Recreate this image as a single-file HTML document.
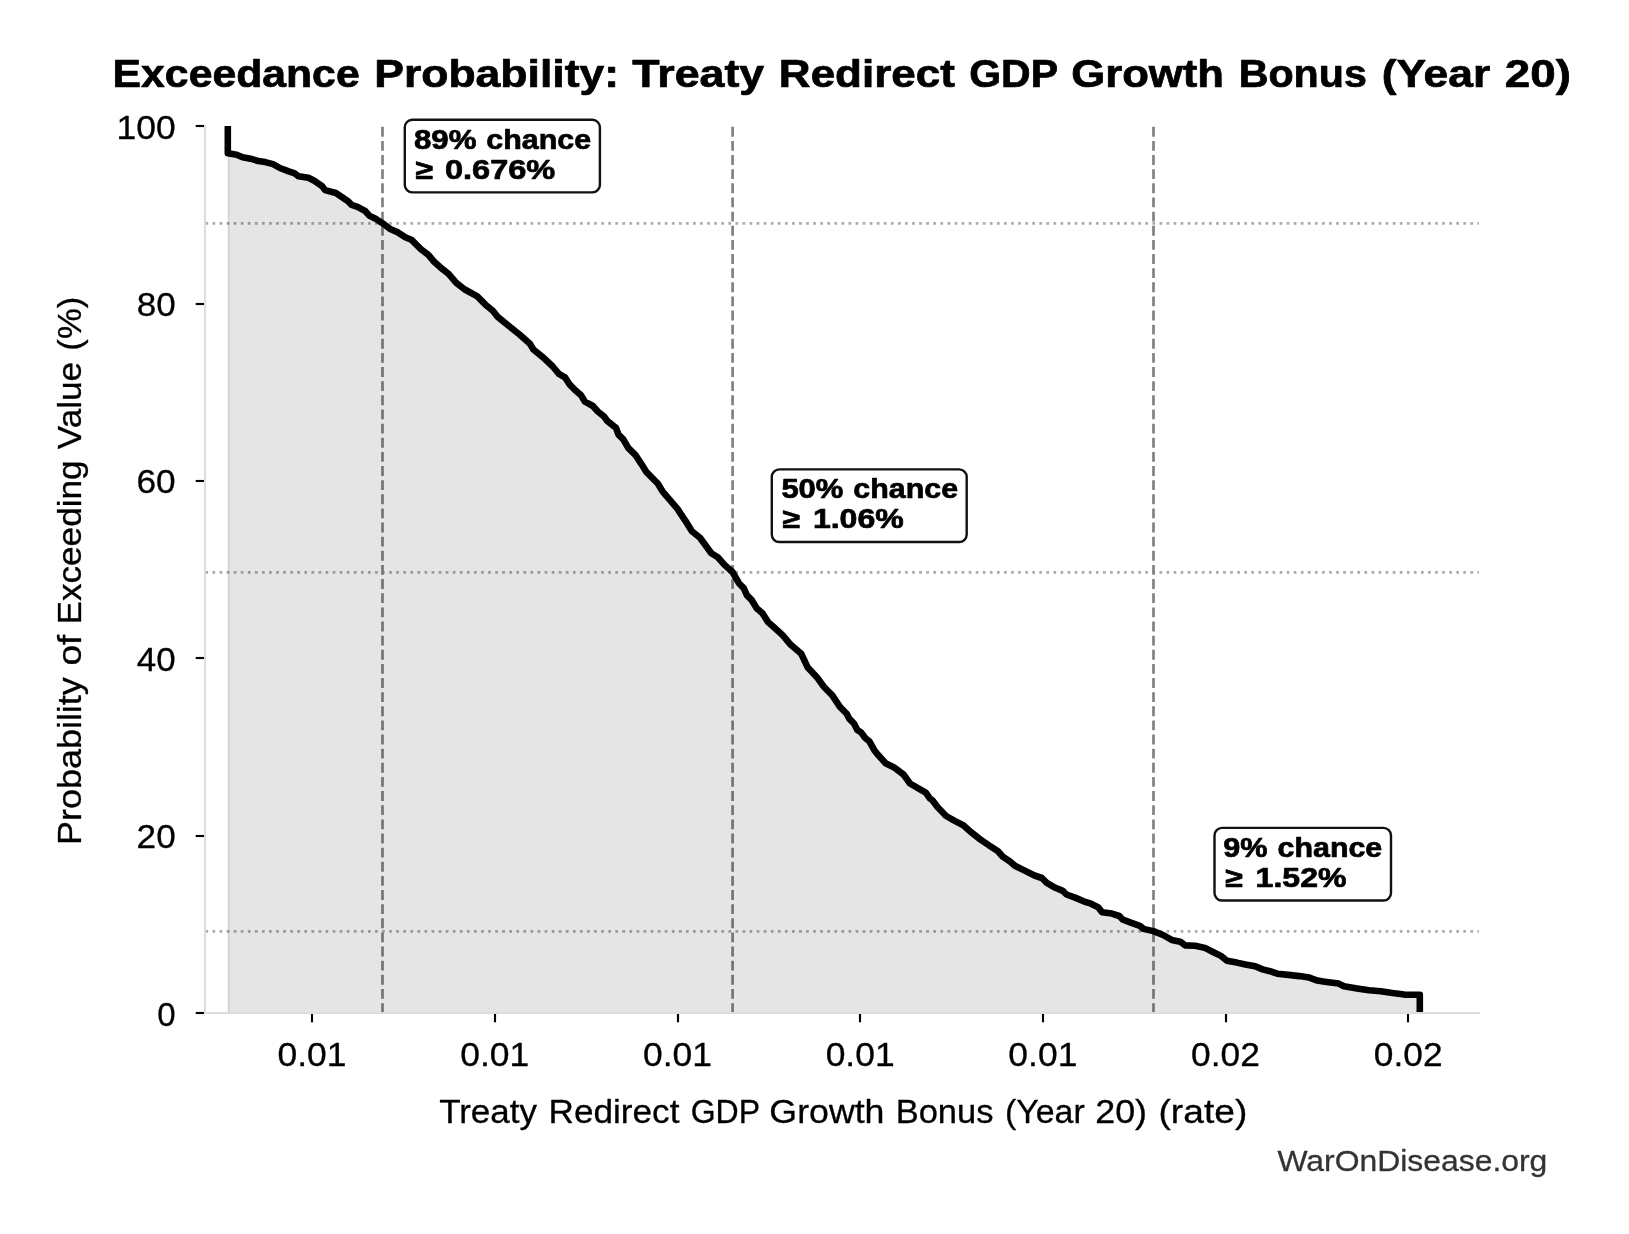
<!DOCTYPE html>
<html lang="en">
<head>
<meta charset="utf-8">
<title>Exceedance Probability: Treaty Redirect GDP Growth Bonus (Year 20)</title>
<style>
html,body{margin:0;padding:0;background:#fff;}
body{width:1629px;height:1234px;overflow:hidden;font-family:"Liberation Sans",sans-serif;}
svg{display:block;will-change:transform;}
text{font-family:"Liberation Sans",sans-serif;fill:#000;white-space:pre;}
.b{font-weight:bold;}
</style>
</head>
<body>
<svg width="1629" height="1234" viewBox="0 0 1629 1234">
<rect x="0" y="0" width="1629" height="1234" fill="#ffffff"/>
<line x1="205.45" y1="223.45" x2="1479" y2="223.45" stroke="#aaaaaa" stroke-width="2.67" stroke-dasharray="2.667 4.4"/>
<line x1="205.45" y1="572.45" x2="1479" y2="572.45" stroke="#aaaaaa" stroke-width="2.67" stroke-dasharray="2.667 4.4"/>
<line x1="205.45" y1="931.45" x2="1479" y2="931.45" stroke="#aaaaaa" stroke-width="2.67" stroke-dasharray="2.667 4.4"/>
<line x1="382.5" y1="1013" x2="382.5" y2="126" stroke="#808080" stroke-width="2.67" stroke-dasharray="9.867 4.267"/>
<line x1="732.6" y1="1013" x2="732.6" y2="126" stroke="#808080" stroke-width="2.67" stroke-dasharray="9.867 4.267"/>
<line x1="1153.5" y1="1013" x2="1153.5" y2="126" stroke="#808080" stroke-width="2.67" stroke-dasharray="9.867 4.267"/>
<path d="M227.8,1013 L227.8,153.3 L236.7,154.7 L242.6,157.2 L250.5,158.7 L258.3,161.1 L265.2,162.1 L273.0,164.1 L279.9,168.0 L288.8,171.4 L294.7,173.4 L298.6,176.3 L308.4,177.8 L314.3,180.8 L322.2,186.2 L325.1,190.1 L335.9,193.0 L341.8,197.0 L347.7,200.9 L351.6,204.8 L357.5,206.8 L365.4,211.2 L369.3,215.6 L376.0,219.0 L382.5,223.2 L390.7,229.3 L398.0,232.4 L405.3,237.2 L411.3,239.7 L421.1,249.4 L428.4,254.8 L434.4,262.1 L442.9,269.4 L449.0,274.3 L456.3,282.8 L464.8,289.5 L477.0,296.2 L485.5,304.7 L492.8,310.8 L497.7,316.9 L507.4,324.8 L519.5,334.5 L529.7,343.4 L533.4,349.5 L543.1,357.4 L552.8,366.5 L558.9,373.8 L565.0,377.4 L569.8,384.7 L575.9,390.8 L580.8,395.0 L585.0,401.7 L592.9,406.0 L597.8,411.5 L603.9,416.3 L607.5,421.2 L616.0,427.9 L618.5,434.6 L623.3,439.4 L628.2,447.9 L635.5,455.2 L641.6,464.3 L646.5,472.2 L657.8,483.5 L662.7,491.6 L677.3,508.6 L685.4,520.8 L691.9,531.3 L700.0,537.8 L711.3,553.2 L717.8,557.3 L724.3,564.6 L732.5,572.0 L738.9,583.2 L743.7,588.1 L747.0,595.4 L751.8,600.2 L756.7,608.3 L762.4,613.2 L768.1,622.1 L774.5,627.8 L782.6,635.1 L790.8,644.8 L801.3,653.8 L807.8,667.6 L817.6,678.1 L824.0,687.0 L832.1,695.1 L840.3,707.3 L846.7,713.8 L849.2,718.6 L854.0,723.5 L857.3,730.0 L861.3,732.6 L865.2,738.0 L869.4,741.3 L874.3,750.2 L877.5,754.3 L885.6,763.2 L893.7,767.2 L903.5,774.5 L910.0,783.5 L919.7,789.1 L925.8,792.6 L929.6,798.2 L932.6,800.5 L937.5,807.0 L946.1,816.0 L954.7,820.9 L963.3,825.2 L970.7,831.9 L979.3,838.7 L989.1,845.4 L997.7,851.0 L1002.6,856.5 L1010.0,861.4 L1014.9,865.7 L1024.7,870.6 L1034.5,875.5 L1041.9,878.0 L1046.8,882.9 L1055.4,887.8 L1062.8,890.9 L1066.5,894.5 L1075.1,897.6 L1083.6,901.3 L1091.0,903.7 L1098.4,907.4 L1102.1,912.3 L1111.9,913.6 L1119.3,916.0 L1122.9,919.7 L1131.5,922.8 L1139.8,925.8 L1143.5,928.9 L1153.4,931.1 L1163.1,935.0 L1171.7,939.9 L1180.3,941.7 L1185.2,945.4 L1195.1,945.7 L1204.9,947.9 L1213.5,952.2 L1220.9,955.9 L1227.0,960.8 L1236.8,962.6 L1245.4,964.5 L1255.2,966.3 L1262.6,969.4 L1270.0,971.2 L1277.3,973.7 L1288.4,974.9 L1299.4,976.1 L1309.3,977.6 L1317.4,980.6 L1324.7,981.7 L1338.7,983.6 L1343.9,986.2 L1357.1,988.4 L1368.9,990.2 L1380.7,991.3 L1392.5,993.1 L1404.3,994.6 L1419.8,994.8 L1419.8,1013 Z" fill="#000" fill-opacity="0.1" stroke="none"/>
<line x1="228.6" y1="153" x2="228.6" y2="1013" stroke="#000" stroke-opacity="0.09" stroke-width="1.6"/>
<clipPath id="axclip"><rect x="205" y="126" width="1274" height="887"/></clipPath>
<path d="M227.8,126.0 L227.8,153.3 L236.7,154.7 L242.6,157.2 L250.5,158.7 L258.3,161.1 L265.2,162.1 L273.0,164.1 L279.9,168.0 L288.8,171.4 L294.7,173.4 L298.6,176.3 L308.4,177.8 L314.3,180.8 L322.2,186.2 L325.1,190.1 L335.9,193.0 L341.8,197.0 L347.7,200.9 L351.6,204.8 L357.5,206.8 L365.4,211.2 L369.3,215.6 L376.0,219.0 L382.5,223.2 L390.7,229.3 L398.0,232.4 L405.3,237.2 L411.3,239.7 L421.1,249.4 L428.4,254.8 L434.4,262.1 L442.9,269.4 L449.0,274.3 L456.3,282.8 L464.8,289.5 L477.0,296.2 L485.5,304.7 L492.8,310.8 L497.7,316.9 L507.4,324.8 L519.5,334.5 L529.7,343.4 L533.4,349.5 L543.1,357.4 L552.8,366.5 L558.9,373.8 L565.0,377.4 L569.8,384.7 L575.9,390.8 L580.8,395.0 L585.0,401.7 L592.9,406.0 L597.8,411.5 L603.9,416.3 L607.5,421.2 L616.0,427.9 L618.5,434.6 L623.3,439.4 L628.2,447.9 L635.5,455.2 L641.6,464.3 L646.5,472.2 L657.8,483.5 L662.7,491.6 L677.3,508.6 L685.4,520.8 L691.9,531.3 L700.0,537.8 L711.3,553.2 L717.8,557.3 L724.3,564.6 L732.5,572.0 L738.9,583.2 L743.7,588.1 L747.0,595.4 L751.8,600.2 L756.7,608.3 L762.4,613.2 L768.1,622.1 L774.5,627.8 L782.6,635.1 L790.8,644.8 L801.3,653.8 L807.8,667.6 L817.6,678.1 L824.0,687.0 L832.1,695.1 L840.3,707.3 L846.7,713.8 L849.2,718.6 L854.0,723.5 L857.3,730.0 L861.3,732.6 L865.2,738.0 L869.4,741.3 L874.3,750.2 L877.5,754.3 L885.6,763.2 L893.7,767.2 L903.5,774.5 L910.0,783.5 L919.7,789.1 L925.8,792.6 L929.6,798.2 L932.6,800.5 L937.5,807.0 L946.1,816.0 L954.7,820.9 L963.3,825.2 L970.7,831.9 L979.3,838.7 L989.1,845.4 L997.7,851.0 L1002.6,856.5 L1010.0,861.4 L1014.9,865.7 L1024.7,870.6 L1034.5,875.5 L1041.9,878.0 L1046.8,882.9 L1055.4,887.8 L1062.8,890.9 L1066.5,894.5 L1075.1,897.6 L1083.6,901.3 L1091.0,903.7 L1098.4,907.4 L1102.1,912.3 L1111.9,913.6 L1119.3,916.0 L1122.9,919.7 L1131.5,922.8 L1139.8,925.8 L1143.5,928.9 L1153.4,931.1 L1163.1,935.0 L1171.7,939.9 L1180.3,941.7 L1185.2,945.4 L1195.1,945.7 L1204.9,947.9 L1213.5,952.2 L1220.9,955.9 L1227.0,960.8 L1236.8,962.6 L1245.4,964.5 L1255.2,966.3 L1262.6,969.4 L1270.0,971.2 L1277.3,973.7 L1288.4,974.9 L1299.4,976.1 L1309.3,977.6 L1317.4,980.6 L1324.7,981.7 L1338.7,983.6 L1343.9,986.2 L1357.1,988.4 L1368.9,990.2 L1380.7,991.3 L1392.5,993.1 L1404.3,994.6 L1419.8,994.8 L1419.8,1013.0" fill="none" stroke="#000" stroke-width="6.6" stroke-linejoin="round" stroke-linecap="butt" clip-path="url(#axclip)"/>
<line x1="312.0" y1="1013" x2="312.0" y2="1022.3" stroke="#000" stroke-width="2.13"/>
<line x1="495.0" y1="1013" x2="495.0" y2="1022.3" stroke="#000" stroke-width="2.13"/>
<line x1="678.0" y1="1013" x2="678.0" y2="1022.3" stroke="#000" stroke-width="2.13"/>
<line x1="860.0" y1="1013" x2="860.0" y2="1022.3" stroke="#000" stroke-width="2.13"/>
<line x1="1043.0" y1="1013" x2="1043.0" y2="1022.3" stroke="#000" stroke-width="2.13"/>
<line x1="1226.0" y1="1013" x2="1226.0" y2="1022.3" stroke="#000" stroke-width="2.13"/>
<line x1="1408.0" y1="1013" x2="1408.0" y2="1022.3" stroke="#000" stroke-width="2.13"/>
<line x1="195.7" y1="1013.0" x2="205" y2="1013.0" stroke="#000" stroke-width="2.13"/>
<line x1="195.7" y1="836.0" x2="205" y2="836.0" stroke="#000" stroke-width="2.13"/>
<line x1="195.7" y1="658.0" x2="205" y2="658.0" stroke="#000" stroke-width="2.13"/>
<line x1="195.7" y1="481.0" x2="205" y2="481.0" stroke="#000" stroke-width="2.13"/>
<line x1="195.7" y1="304.0" x2="205" y2="304.0" stroke="#000" stroke-width="2.13"/>
<line x1="195.7" y1="126.0" x2="205" y2="126.0" stroke="#000" stroke-width="2.13"/>
<line x1="205" y1="125" x2="205" y2="1014.07" stroke="#dddddd" stroke-width="2.13"/>
<line x1="203.93" y1="1013" x2="1480" y2="1013" stroke="#dddddd" stroke-width="2.13"/>
<text class="b" y="86.8" font-size="38.2" stroke="#000" stroke-width="0.7" stroke-linejoin="round"><tspan x="112.62" textLength="247.05" lengthAdjust="spacingAndGlyphs">Exceedance</tspan> <tspan x="374.20" textLength="244.88" lengthAdjust="spacingAndGlyphs">Probability:</tspan> <tspan x="632.37" textLength="131.86" lengthAdjust="spacingAndGlyphs">Treaty</tspan> <tspan x="778.87" textLength="176.05" lengthAdjust="spacingAndGlyphs">Redirect</tspan> <tspan x="969.16" textLength="88.09" lengthAdjust="spacingAndGlyphs">GDP</tspan> <tspan x="1071.18" textLength="152.87" lengthAdjust="spacingAndGlyphs">Growth</tspan> <tspan x="1238.65" textLength="128.22" lengthAdjust="spacingAndGlyphs">Bonus</tspan> <tspan x="1381.67" textLength="108.62" lengthAdjust="spacingAndGlyphs">(Year</tspan> <tspan x="1504.82" textLength="66.11" lengthAdjust="spacingAndGlyphs">20)</tspan></text>
<text y="1065.9" font-size="34.0" stroke="#000" stroke-width="0.3" stroke-linejoin="round"><tspan x="277.57" textLength="69.00" lengthAdjust="spacingAndGlyphs">0.01</tspan></text>
<text y="1065.9" font-size="34.0" stroke="#000" stroke-width="0.3" stroke-linejoin="round"><tspan x="460.27" textLength="69.00" lengthAdjust="spacingAndGlyphs">0.01</tspan></text>
<text y="1065.9" font-size="34.0" stroke="#000" stroke-width="0.3" stroke-linejoin="round"><tspan x="642.97" textLength="69.00" lengthAdjust="spacingAndGlyphs">0.01</tspan></text>
<text y="1065.9" font-size="34.0" stroke="#000" stroke-width="0.3" stroke-linejoin="round"><tspan x="825.67" textLength="69.00" lengthAdjust="spacingAndGlyphs">0.01</tspan></text>
<text y="1065.9" font-size="34.0" stroke="#000" stroke-width="0.3" stroke-linejoin="round"><tspan x="1008.37" textLength="69.00" lengthAdjust="spacingAndGlyphs">0.01</tspan></text>
<text y="1065.9" font-size="34.0" stroke="#000" stroke-width="0.3" stroke-linejoin="round"><tspan x="1191.08" textLength="68.80" lengthAdjust="spacingAndGlyphs">0.02</tspan></text>
<text y="1065.9" font-size="34.0" stroke="#000" stroke-width="0.3" stroke-linejoin="round"><tspan x="1373.78" textLength="68.80" lengthAdjust="spacingAndGlyphs">0.02</tspan></text>
<text y="1025.6" font-size="34.0" stroke="#000" stroke-width="0.3" stroke-linejoin="round"><tspan x="157.21" textLength="18.41" lengthAdjust="spacingAndGlyphs">0</tspan></text>
<text y="848.2" font-size="34.0" stroke="#000" stroke-width="0.3" stroke-linejoin="round"><tspan x="136.61" textLength="39.09" lengthAdjust="spacingAndGlyphs">20</tspan></text>
<text y="670.8" font-size="34.0" stroke="#000" stroke-width="0.3" stroke-linejoin="round"><tspan x="136.79" textLength="38.90" lengthAdjust="spacingAndGlyphs">40</tspan></text>
<text y="493.4" font-size="34.0" stroke="#000" stroke-width="0.3" stroke-linejoin="round"><tspan x="136.47" textLength="39.23" lengthAdjust="spacingAndGlyphs">60</tspan></text>
<text y="316.0" font-size="34.0" stroke="#000" stroke-width="0.3" stroke-linejoin="round"><tspan x="136.68" textLength="39.02" lengthAdjust="spacingAndGlyphs">80</tspan></text>
<text y="138.6" font-size="34.0" stroke="#000" stroke-width="0.3" stroke-linejoin="round"><tspan x="116.48" textLength="59.23" lengthAdjust="spacingAndGlyphs">100</tspan></text>
<text y="1122.7" font-size="33.4" stroke="#000" stroke-width="0.3" stroke-linejoin="round"><tspan x="439.17" textLength="97.77" lengthAdjust="spacingAndGlyphs">Treaty</tspan> <tspan x="548.56" textLength="130.90" lengthAdjust="spacingAndGlyphs">Redirect</tspan> <tspan x="690.64" textLength="68.82" lengthAdjust="spacingAndGlyphs">GDP</tspan> <tspan x="769.35" textLength="115.13" lengthAdjust="spacingAndGlyphs">Growth</tspan> <tspan x="895.66" textLength="97.84" lengthAdjust="spacingAndGlyphs">Bonus</tspan> <tspan x="1004.93" textLength="79.85" lengthAdjust="spacingAndGlyphs">(Year</tspan> <tspan x="1095.23" textLength="51.84" lengthAdjust="spacingAndGlyphs">20)</tspan> <tspan x="1158.51" textLength="88.78" lengthAdjust="spacingAndGlyphs">(rate)</tspan></text>
<text transform="translate(81.1,845.3) rotate(-90)" y="0" font-size="33.4" stroke="#000" stroke-width="0.3" stroke-linejoin="round"><tspan x="0.34" textLength="167.78" lengthAdjust="spacingAndGlyphs">Probability</tspan> <tspan x="179.69" textLength="30.89" lengthAdjust="spacingAndGlyphs">of</tspan> <tspan x="220.75" textLength="164.16" lengthAdjust="spacingAndGlyphs">Exceeding</tspan> <tspan x="396.12" textLength="87.34" lengthAdjust="spacingAndGlyphs">Value</tspan> <tspan x="494.67" textLength="53.87" lengthAdjust="spacingAndGlyphs">(%)</tspan></text>
<text y="1170.5" font-size="30.0" stroke="#000" stroke-width="0.3" stroke-linejoin="round" style="fill:#333333;stroke:#333333"><tspan x="1277.48" textLength="269.87" lengthAdjust="spacingAndGlyphs">WarOnDisease.org</tspan></text>
<rect x="404.8" y="119.8" width="195.1" height="72.6" rx="7.5" ry="7.5" fill="#ffffff" stroke="#111111" stroke-width="2.4"/>
<text class="b" y="148.5" font-size="27.5" stroke="#000" stroke-width="0.7" stroke-linejoin="round"><tspan x="413.94" textLength="62.48" lengthAdjust="spacingAndGlyphs">89%</tspan> <tspan x="486.38" textLength="104.77" lengthAdjust="spacingAndGlyphs">chance</tspan></text>
<text class="b" y="178.6" font-size="27.5" stroke="#000" stroke-width="0.7" stroke-linejoin="round"><tspan x="415.36" textLength="17.52" lengthAdjust="spacingAndGlyphs">≥</tspan> <tspan x="444.92" textLength="110.40" lengthAdjust="spacingAndGlyphs">0.676%</tspan></text>
<rect x="771.8" y="469.4" width="194.9" height="72.6" rx="7.5" ry="7.5" fill="#ffffff" stroke="#111111" stroke-width="2.4"/>
<text class="b" y="498.1" font-size="27.5" stroke="#000" stroke-width="0.7" stroke-linejoin="round"><tspan x="781.40" textLength="62.00" lengthAdjust="spacingAndGlyphs">50%</tspan> <tspan x="853.38" textLength="104.77" lengthAdjust="spacingAndGlyphs">chance</tspan></text>
<text class="b" y="528.2" font-size="27.5" stroke="#000" stroke-width="0.7" stroke-linejoin="round"><tspan x="782.36" textLength="17.52" lengthAdjust="spacingAndGlyphs">≥</tspan> <tspan x="812.92" textLength="90.83" lengthAdjust="spacingAndGlyphs">1.06%</tspan></text>
<rect x="1214.5" y="827.9" width="176.5" height="72.6" rx="7.5" ry="7.5" fill="#ffffff" stroke="#111111" stroke-width="2.4"/>
<text class="b" y="856.6" font-size="27.5" stroke="#000" stroke-width="0.7" stroke-linejoin="round"><tspan x="1223.32" textLength="44.22" lengthAdjust="spacingAndGlyphs">9%</tspan> <tspan x="1277.52" textLength="104.77" lengthAdjust="spacingAndGlyphs">chance</tspan></text>
<text class="b" y="886.7" font-size="27.5" stroke="#000" stroke-width="0.7" stroke-linejoin="round"><tspan x="1225.06" textLength="17.52" lengthAdjust="spacingAndGlyphs">≥</tspan> <tspan x="1255.62" textLength="90.83" lengthAdjust="spacingAndGlyphs">1.52%</tspan></text>
</svg>
</body>
</html>
